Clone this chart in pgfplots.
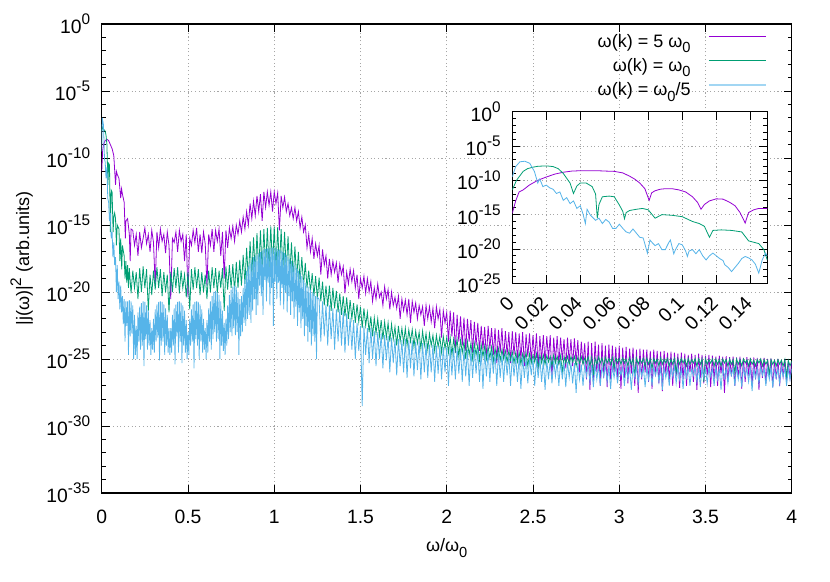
\documentclass[border=0pt]{standalone}
\usepackage{fontspec}
\setmainfont{Liberation Sans}
\usepackage{pgfplots}
\pgfplotsset{compat=1.18}
\definecolor{cP}{HTML}{9400D3}
\definecolor{cG}{HTML}{009E73}
\definecolor{cB}{HTML}{56B4E9}
\newcommand{\sups}[1]{\raisebox{0.45em}{\fontsize{11.5}{12}\selectfont #1}}
\newcommand{\subs}[1]{\raisebox{-0.3em}{\fontsize{11}{12}\selectfont #1}}
\pgfplotsset{
  myax/.style={
    scale only axis,
    /pgf/number format/assume math mode=true,
    tick align=inside,
    major tick length=6pt,
    minor tick length=3pt,
    axis line style={line width=0.9pt},
    every tick/.style={line width=0.6pt, black},
    grid=major,
    grid style={line width=0.5pt, gray!70, dash pattern=on 0.8pt off 2pt},
    every tick label/.append style={font=\fontsize{14.5}{17}\selectfont},
    label style={font=\fontsize{13.5}{16}\selectfont},
    yticklabel style={xshift=-4pt},
  }
}
\begin{document}
\fontsize{13.5}{16}\selectfont
\begin{tikzpicture}[font=\fontsize{13.5}{16}\selectfont]
\path[use as bounding box] (0,0) rectangle (622.5pt,435.75pt);
\begin{axis}[myax, ymode=log,
  at={(76.3pt,66pt)}, anchor=south west,
  width=517.5pt, height=351.75pt,
  xmin=0, xmax=4, ymin=1e-35, ymax=1,
  xtick={0,0.5,1,1.5,2,2.5,3,3.5,4},
  xticklabels={0,0.5,1,1.5,2,2.5,3,3.5,4},
  xticklabel style={yshift=-8pt},
  ytick={1e-35,1e-30,1e-25,1e-20,1e-15,1e-10,1e-5,1},
  yticklabels={10\sups{-35},10\sups{-30},10\sups{-25},10\sups{-20},10\sups{-15},10\sups{-10},10\sups{-5},10\sups{0}},
  minor ytick={1e-34,1e-33,1e-32,1e-31,1e-29,1e-28,1e-27,1e-26,1e-24,1e-23,1e-22,1e-21,1e-19,1e-18,1e-17,1e-16,1e-14,1e-13,1e-12,1e-11,1e-9,1e-8,1e-7,1e-6,1e-4,1e-3,1e-2,1e-1},
  xlabel={ω/ω\subs{0}},
  ylabel={|j(ω)|\sups{2} (arb.units)},
  xlabel style={at={(axis description cs:0.5,-0.117)}, anchor=center},
  ylabel style={at={(axis description cs:-0.116,0.5)}, anchor=center},
  legend cell align=right,
  legend plot pos=right,
  legend style={at={(axis description cs:0.965,0.985)}, anchor=north east, draw=none, fill=none, inner sep=0pt, row sep=2.5pt, column sep=11pt, font=\fontsize{13.5}{16}\selectfont},
  legend image code/.code={\draw[#1] (0pt,0.3em) -- (43pt,0.3em);},
]
% omega(k) = 5 omega_0
\addplot[color=cP, line width=0.6pt, legend image post style={line width=0.9pt}] coordinates {
(0,1e-11)(0.005,3e-10)(0.01,1e-9)(0.02,2e-9)(0.03,2.5e-9)(0.04,2e-9)(0.05,1e-9)(0.06,5e-10)(0.07,1.5e-10)(0.08,1e-12)(0.085,1e-11)(0.09,6e-12)(0.1,3e-12)(0.11,1e-13)(0.115,5e-13)(0.12,2e-13)(0.13,5e-14)(0.137,1e-16)(0.14,2e-15)(0.15,3e-15)(0.16,2e-16)(0.165,2e-18)(0.17,5e-16)
(0.18,4e-16)(0.19,3e-17)(0.20,2e-16)(0.21,5e-18)(0.22,3e-16)(0.23,2e-17)(0.24,1e-16)(0.25,6e-16)(0.26,4e-17)(0.27,2e-16)(0.28,1e-17)(0.29,4e-16)(0.30,5e-17)(0.31,3e-20)(0.32,3e-16)(0.33,2e-17)(0.34,5e-16)(0.35,6e-17)(0.36,2e-16)(0.37,8e-18)(0.38,3e-16)(0.39,3e-17)(0.40,3e-21)(0.41,1e-16)(0.42,5e-17)(0.43,3e-16)(0.44,1e-17)(0.45,4e-16)(0.46,6e-17)(0.47,2e-16)(0.48,2e-18)(0.49,2e-16)(0.50,4e-21)
(0.51,1e-16)(0.52,3e-17)(0.53,4e-16)(0.54,5e-17)(0.55,6e-16)(0.56,1e-17)(0.57,2e-16)(0.58,8e-18)(0.59,3e-16)(0.60,4e-17)(0.61,3e-20)(0.62,2e-16)(0.63,3e-17)(0.64,5e-16)(0.65,1e-17)(0.66,4e-16)(0.67,6e-17)(0.68,5e-16)(0.69,5e-18)(0.70,3e-16)(0.71,1e-19)(0.72,4e-16)(0.73,2e-17)(0.74,6e-16)(0.75,1e-16)
(0.76,8e-16)(0.77,6e-17)(0.78,1e-15)(0.79,2e-16)(0.80,2e-15)(0.81,3e-16)(0.82,4e-15)(0.83,5e-16)(0.84,1e-14)(0.85,1e-15)(0.86,4e-14)(0.87,3e-15)(0.88,6e-14)(0.89,5e-15)(0.90,1.5e-13)(0.91,1e-14)(0.92,2e-13)(0.93,2e-15)(0.94,3e-13)(0.95,2e-14)(0.96,3e-13)(0.97,3e-14)(0.98,3e-13)(0.99,1e-14)(1.00,3e-13)(1.01,4e-14)(1.02,2.5e-13)(1.03,4e-16)(1.04,1.5e-13)(1.05,2e-14)(1.06,1.2e-13)(1.07,1e-14)(1.08,4e-14)(1.09,5e-15)(1.10,2e-14)(1.11,3e-15)(1.12,2e-14)(1.13,2e-15)(1.14,1e-14)
(1.15,6e-16)(1.16,4e-15)(1.17,3e-16)(1.18,1e-15)(1.19,2e-17)(1.20,2e-16)(1.21,1e-17)(1.22,1e-16)(1.23,3e-18)(1.24,4e-17)(1.25,5e-18)(1.26,3e-17)(1.27,2e-19)(1.28,1.5e-17)(1.29,1e-18)(1.30,5e-18)(1.31,1e-19)(1.32,3e-18)(1.33,2e-19)(1.34,2e-18)(1.35,3e-19)(1.36,1.5e-18)(1.37,5e-20)(1.38,1.2e-18)(1.39,2e-19)(1.40,8e-19)(1.41,8e-21)(1.42,3e-19)(1.43,4e-20)(1.44,5e-19)(1.45,6e-20)(1.46,4e-19)(1.47,2e-20)(1.48,2e-19)(1.49,3e-21)(1.50,1e-19)
(1.51,2e-20)(1.52,1.5e-19)(1.53,8e-21)(1.54,1e-19)(1.55,1e-20)(1.56,6e-20)(1.57,2e-21)(1.58,2e-20)(1.59,3e-21)(1.60,4e-20)(1.61,4e-21)(1.62,1e-20)(1.63,1e-21)(1.64,2.5e-20)(1.65,3e-21)(1.66,1.5e-20)(1.67,5e-22)(1.68,1e-20)(1.69,1e-21)(1.70,4e-21)(1.71,6e-22)(1.72,5e-21)(1.73,1e-22)(1.74,3e-21)(1.75,4e-22)(1.76,2.5e-21)(1.77,2e-22)(1.78,3e-21)(1.79,5e-23)(1.80,2e-21)(1.81,3e-22)(1.82,1.5e-21)(1.83,1e-22)(1.84,1e-21)(1.85,2e-22)(1.86,8e-22)(1.87,3e-23)(1.88,1e-21)(1.89,1e-22)(1.90,8e-22)(1.91,6e-23)(1.92,6e-22)(1.93,2e-23)(1.94,8e-22)(1.95,1e-22)(1.96,5e-22)(1.97,4e-24)(1.98,4e-22)(1.99,5e-23)
(2.00,3e-22)(2.01,2e-24)(2.02,4e-22)(2.03,5e-24)(2.04,3e-22)(2.05,3e-25)(2.06,2e-22)(2.07,2e-24)(2.08,1.5e-22)(2.09,1e-24)(2.10,1.2e-22)(2.11,4e-25)(2.12,1e-22)(2.13,2e-24)(2.14,8e-23)(2.15,3e-25)(2.16,6e-23)(2.17,1e-24)(2.18,5e-23)(2.19,4e-25)(2.20,3e-23)(2.21,5e-25)(2.22,2.5e-23)(2.23,1e-25)(2.24,3e-23)(2.25,6e-25)(2.26,2e-23)(2.27,2e-25)(2.28,2e-23)(2.29,5e-26)(2.30,1.5e-23)(2.31,3e-25)(2.32,2e-23)(2.33,1e-25)(2.34,1.2e-23)(2.35,2e-25)(2.36,1e-23)(2.37,5e-26)(2.38,1.2e-23)(2.39,2e-25)(2.40,1e-23)
(2.41,8e-26)(2.42,8e-24)(2.43,1e-25)(2.44,1e-23)(2.45,3e-26)(2.46,7e-24)(2.47,1.5e-25)(2.48,8e-24)(2.49,6e-26)(2.50,6e-24)(2.51,1e-25)(2.52,8e-24)(2.53,2e-26)(2.54,5e-24)(2.55,8e-26)(2.56,6e-24)(2.57,5e-26)(2.58,5e-24)(2.59,1e-25)(2.60,6e-24)(2.61,3e-27)(2.62,4e-24)(2.63,6e-26)(2.64,5e-24)(2.65,4e-26)(2.66,4e-24)(2.67,8e-26)(2.68,3e-24)(2.69,2e-26)(2.70,4e-24)(2.71,5e-26)(2.72,3e-24)(2.73,3e-26)(2.74,3.5e-24)(2.75,6e-26)(2.76,2.5e-24)(2.77,1e-26)(2.78,2e-24)(2.79,4e-26)
(2.80,1.5e-24)(2.81,3e-27)(2.82,2e-24)(2.83,5e-28)(2.84,1.5e-24)(2.85,2e-27)(2.86,2e-24)(2.87,1e-26)(2.88,1.2e-24)(2.89,1e-27)(2.90,1.5e-24)(2.91,4e-27)(2.92,1e-24)(2.93,8e-28)(2.94,1.2e-24)(2.95,3e-27)(2.96,1e-24)(2.97,1e-26)(2.98,8e-25)(2.99,2e-27)(3.00,1e-24)(3.01,6e-28)(3.02,7e-25)(3.03,4e-27)(3.04,8e-25)(3.05,1.5e-27)(3.06,6e-25)(3.07,8e-27)(3.08,7e-25)(3.09,1e-27)(3.10,5e-25)(3.11,3e-28)(3.12,6e-25)(3.13,3e-27)(3.14,5e-25)(3.15,1e-26)(3.16,5e-25)(3.17,2e-27)(3.18,4e-25)(3.19,6e-28)(3.20,5e-25)
(3.21,5e-27)(3.22,4e-25)(3.23,1.5e-27)(3.24,3.5e-25)(3.25,4e-28)(3.26,4e-25)(3.27,8e-27)(3.28,3e-25)(3.29,2e-27)(3.30,3.5e-25)(3.31,1e-27)(3.32,3e-25)(3.33,5e-27)(3.34,2.5e-25)(3.35,7e-28)(3.36,3e-25)(3.37,3e-27)(3.38,2.5e-25)(3.39,1e-27)(3.40,2e-25)(3.41,1e-26)(3.42,2.5e-25)(3.43,2e-27)(3.44,2e-25)(3.45,5e-28)(3.46,2.5e-25)(3.47,4e-27)(3.48,2e-25)(3.49,1.5e-27)(3.50,1.8e-25)(3.51,6e-27)(3.52,2e-25)(3.53,8e-28)(3.54,1.8e-25)(3.55,3e-27)(3.56,1.5e-25)(3.57,1e-27)(3.58,1.8e-25)(3.59,8e-27)(3.60,1.5e-25)
(3.61,3e-28)(3.62,1.6e-25)(3.63,2e-27)(3.64,1.4e-25)(3.65,5e-27)(3.66,1.5e-25)(3.67,1e-27)(3.68,1.3e-25)(3.69,4e-27)(3.70,1.5e-25)(3.71,6e-28)(3.72,1.2e-25)(3.73,2e-27)(3.74,1.4e-25)(3.75,8e-27)(3.76,1.2e-25)(3.77,1e-27)(3.78,1.3e-25)(3.79,3e-27)(3.80,1.2e-25)(3.81,5e-28)(3.82,1.1e-25)(3.83,4e-27)(3.84,1.2e-25)(3.85,1.5e-27)(3.86,1e-25)(3.87,6e-27)(3.88,1.1e-25)(3.89,8e-28)(3.90,9e-26)(3.91,3e-27)(3.92,1e-25)(3.93,1e-27)(3.94,8e-26)(3.95,5e-27)(3.96,9e-26)(3.97,2e-27)(3.98,7e-26)(3.99,4e-27)(4.00,6e-26)
};
\addlegendentry{ω(k) = 5 ω\subs{0}}
% omega(k) = omega_0
\addplot[color=cG, line width=0.6pt, legend image post style={line width=0.9pt}] coordinates {
(0,1e-8)(0.005,2e-8)(0.01,1.5e-8)(0.015,1.2e-8)(0.02,1e-8)(0.025,5e-9)(0.03,1e-9)(0.036,1e-12)(0.04,4e-11)(0.045,3e-11)(0.05,3e-16)(0.055,4e-13)(0.06,3e-13)(0.066,3e-16)(0.07,4e-15)(0.075,8e-15)(0.08,3e-15)(0.085,3e-17)(0.09,1e-15)(0.1,5e-16)(0.105,2e-18)(0.11,1e-16)(0.116,5e-19)(0.12,3e-17)(0.13,5e-18)(0.135,1e-19)(0.14,2e-18)(0.145,5e-20)(0.15,1e-18)(0.155,2e-20)
(0.16,6e-19)(0.17,8e-21)(0.18,4e-19)(0.19,2e-20)(0.20,3e-19)(0.21,3e-21)(0.22,6e-19)(0.23,1e-20)(0.24,8e-19)(0.25,2e-20)(0.26,5e-19)(0.27,4e-22)(0.28,2e-19)(0.29,6e-21)(0.30,4e-19)(0.31,1.5e-20)(0.32,7e-19)(0.33,2e-20)(0.34,5e-19)(0.35,5e-21)(0.36,3e-19)(0.37,1e-20)(0.38,2e-19)(0.39,3e-22)(0.40,3e-19)(0.41,1e-20)(0.42,6e-19)(0.43,2e-20)(0.44,7e-19)(0.45,8e-21)
(0.46,4e-19)(0.47,2e-20)(0.48,2e-19)(0.49,4e-21)(0.50,3e-19)(0.51,5e-22)(0.52,5e-19)(0.53,1.5e-20)(0.54,7e-19)(0.55,2e-20)(0.56,5e-19)(0.57,6e-21)(0.58,3e-19)(0.59,1e-20)(0.60,2e-19)(0.61,3e-21)(0.62,4e-19)(0.63,1e-20)(0.64,7e-19)(0.65,2e-20)(0.66,6e-19)(0.67,8e-21)(0.68,4e-19)(0.69,2e-20)(0.70,6e-19)(0.71,4e-22)(0.72,8e-19)(0.73,1.5e-20)(0.74,1e-18)(0.75,2e-20)
(0.76,1.2e-18)(0.77,1e-20)(0.78,1.8e-18)(0.79,2e-20)(0.80,2.5e-18)(0.81,3e-20)(0.82,6e-18)(0.83,4e-20)(0.84,2e-17)(0.85,8e-20)(0.86,6e-17)(0.87,1.5e-19)(0.88,1.2e-16)(0.89,2e-19)(0.90,2.5e-16)(0.91,3e-19)(0.92,4e-16)(0.93,4e-19)(0.94,5e-16)(0.95,5e-19)(0.96,6e-16)(0.97,6e-19)(0.98,8e-16)(0.99,6e-19)(1.00,8e-16)(1.01,5e-19)(1.02,7e-16)(1.03,5e-19)(1.04,5e-16)(1.05,4e-19)(1.06,3e-16)(1.07,3e-19)(1.08,1.5e-16)(1.09,2e-19)(1.10,5e-17)(1.11,1e-19)(1.12,2.5e-17)(1.13,8e-20)(1.14,1e-17)(1.15,5e-20)(1.16,4e-18)(1.17,3e-20)(1.18,1.5e-18)(1.19,2e-20)(1.20,4e-19)(1.21,1e-20)
(1.22,2.5e-19)(1.23,5e-21)(1.24,1.5e-19)(1.25,3e-21)(1.26,1.2e-19)(1.27,2e-21)(1.28,6e-20)(1.29,1e-21)(1.30,3e-20)(1.31,8e-22)(1.32,3e-20)(1.33,4e-22)(1.34,2e-20)(1.35,6e-22)(1.36,1.2e-20)(1.37,3e-22)(1.38,8e-21)(1.39,2e-22)(1.40,5e-21)(1.41,1.5e-22)(1.42,4e-21)(1.43,1e-22)(1.44,2.5e-21)(1.45,1e-22)(1.46,1.5e-21)(1.47,5e-23)(1.48,1.2e-21)(1.49,6e-23)(1.50,8e-22)(1.51,2e-23)(1.52,6e-22)(1.53,3e-23)(1.54,3e-22)(1.55,1e-23)(1.56,1.5e-22)(1.57,5e-24)(1.58,1.2e-22)(1.59,8e-24)(1.60,1e-22)
(1.61,5e-24)(1.62,8e-23)(1.63,3e-24)(1.64,6e-23)(1.65,4e-24)(1.66,5e-23)(1.67,2e-24)(1.68,4e-23)(1.69,3e-24)(1.70,2.5e-23)(1.71,1e-24)(1.72,3e-23)(1.73,2e-24)(1.74,2e-23)(1.75,1.5e-24)(1.76,2e-23)(1.77,1e-24)(1.78,1.5e-23)(1.79,2e-24)(1.80,1.6e-23)(1.81,8e-25)(1.82,1.2e-23)(1.83,1.5e-24)(1.84,1e-23)(1.85,6e-25)(1.86,1.2e-23)(1.87,1e-24)(1.88,8e-24)(1.89,5e-25)(1.90,8e-24)(1.91,1e-24)(1.92,6e-24)(1.93,4e-25)(1.94,6e-24)(1.95,8e-25)(1.96,5e-24)(1.97,3e-25)(1.98,5e-24)(1.99,6e-25)(2.00,4e-24)
(2.01,3e-25)(2.02,4e-24)(2.03,2e-25)(2.04,3e-24)(2.05,4e-25)(2.06,3e-24)(2.07,1.5e-25)(2.08,2.5e-24)(2.09,3e-25)(2.10,2e-24)(2.11,1e-25)(2.12,2e-24)(2.13,2e-25)(2.14,1.5e-24)(2.15,1e-25)(2.16,1.5e-24)(2.17,2e-25)(2.18,1.2e-24)(2.19,8e-26)(2.20,1.2e-24)(2.21,1.5e-25)(2.22,1e-24)(2.23,1e-25)(2.24,8e-25)(2.25,1.2e-25)(2.26,8e-25)(2.27,6e-26)(2.28,6e-25)(2.29,1e-25)(2.30,6e-25)(2.31,8e-26)(2.32,5e-25)(2.33,1e-25)(2.34,4e-25)(2.35,6e-26)(2.36,4e-25)(2.37,8e-26)(2.38,3.5e-25)(2.39,5e-26)(2.40,3e-25)
(2.41,6e-26)(2.42,3e-25)(2.43,4e-26)(2.44,2.5e-25)(2.45,7e-26)(2.46,3e-25)(2.47,3e-26)(2.48,2.5e-25)(2.49,5e-26)(2.50,2e-25)(2.51,6e-26)(2.52,2.5e-25)(2.53,2e-26)(2.54,2e-25)(2.55,5e-26)(2.56,2e-25)(2.57,4e-26)(2.58,1.8e-25)(2.59,6e-26)(2.60,1.6e-25)(2.61,3e-26)(2.62,2e-25)(2.63,5e-26)(2.64,1.6e-25)(2.65,4e-26)(2.66,1.8e-25)(2.67,1e-26)(2.68,1.5e-25)(2.69,5e-26)(2.70,1.6e-25)(2.71,4e-26)(2.72,1.5e-25)(2.73,6e-26)(2.74,1.6e-25)(2.75,3e-26)(2.76,1.4e-25)(2.77,5e-26)(2.78,1.5e-25)(2.79,4e-26)(2.80,1.2e-25)
(2.81,5e-26)(2.82,1.5e-25)(2.83,3e-26)(2.84,1.3e-25)(2.85,6e-27)(2.86,1.2e-25)(2.87,4e-26)(2.88,1.4e-25)(2.89,5e-26)(2.90,1.2e-25)(2.91,3e-26)(2.92,1.3e-25)(2.93,5e-26)(2.94,1.1e-25)(2.95,4e-26)(2.96,1.3e-25)(2.97,2e-26)(2.98,1.2e-25)(2.99,5e-26)(3.00,1.1e-25)(3.01,4e-26)(3.02,1.2e-25)(3.03,5e-26)(3.04,1e-25)(3.05,3e-26)(3.06,1.2e-25)(3.07,4e-26)(3.08,1.1e-25)(3.09,5e-27)(3.10,1.2e-25)(3.11,4e-26)(3.12,1e-25)(3.13,5e-26)(3.14,1.1e-25)(3.15,3e-26)(3.16,1.2e-25)(3.17,4e-26)(3.18,1e-25)(3.19,2e-26)(3.20,1.1e-25)
(3.21,5e-26)(3.22,1e-25)(3.23,3e-26)(3.24,1.2e-25)(3.25,4e-26)(3.26,1e-25)(3.27,5e-26)(3.28,1.1e-25)(3.29,3e-26)(3.30,1e-25)(3.31,4e-26)(3.32,1.1e-25)(3.33,1e-26)(3.34,1e-25)(3.35,4e-26)(3.36,1.1e-25)(3.37,5e-26)(3.38,1e-25)(3.39,3e-26)(3.40,1.1e-25)(3.41,4e-26)(3.42,9e-26)(3.43,5e-26)(3.44,1.1e-25)(3.45,3e-26)(3.46,1e-25)(3.47,4e-26)(3.48,1e-25)(3.49,2e-27)(3.50,1e-25)(3.51,4e-26)(3.52,9e-26)(3.53,5e-26)(3.54,1e-25)(3.55,3e-26)(3.56,1e-25)(3.57,4e-26)(3.58,9e-26)(3.59,3e-26)(3.60,1e-25)
(3.61,5e-26)(3.62,9e-26)(3.63,3e-26)(3.64,1e-25)(3.65,4e-26)(3.66,9e-26)(3.67,1e-26)(3.68,1e-25)(3.69,4e-26)(3.70,9e-26)(3.71,3e-26)(3.72,1e-25)(3.73,5e-26)(3.74,9e-26)(3.75,3e-26)(3.76,1e-25)(3.77,4e-26)(3.78,8e-26)(3.79,3e-26)(3.80,9e-26)(3.81,5e-26)(3.82,1e-25)(3.83,3e-26)(3.84,9e-26)(3.85,4e-26)(3.86,8e-26)(3.87,6e-27)(3.88,9e-26)(3.89,4e-26)(3.90,8e-26)(3.91,3e-26)(3.92,9e-26)(3.93,4e-26)(3.94,8e-26)(3.95,3e-26)(3.96,9e-26)(3.97,5e-27)(3.98,8e-26)(3.99,3e-26)(4.00,7e-26)
};
\addlegendentry{ω(k) = ω\subs{0}}
% omega(k) = omega_0/5
\addplot[color=cB, line width=0.6pt, legend image post style={line width=1.6pt, opacity=0.55}] coordinates {
(0,3e-10)(0.003,1e-7)(0.006,6e-8)(0.01,3e-8)(0.013,2e-9)(0.016,8e-11)(0.02,5e-11)(0.025,3e-12)(0.03,2e-11)(0.035,1e-13)(0.04,5e-14)(0.045,2e-15)(0.05,8e-15)(0.055,1e-16)(0.06,3e-16)(0.065,4e-18)(0.07,5e-17)(0.075,1e-18)(0.08,4e-18)(0.085,1e-20)(0.09,1e-18)(0.095,3e-21)(0.1,6e-20)(0.105,5e-22)(0.11,3e-20)(0.115,3e-22)(0.12,5e-21)
(0.125,4e-23)(0.13,3e-21)(0.135,2e-24)(0.14,2e-21)(0.145,3e-23)(0.15,2e-21)(0.155,2e-25)(0.16,2.5e-21)(0.165,5e-24)(0.17,2e-21)(0.175,8e-24)(0.18,1e-21)(0.185,1e-25)(0.19,2e-22)(0.195,2e-25)(0.20,3e-23)(0.205,1e-25)(0.21,3e-22)(0.215,2e-24)(0.22,8e-22)(0.225,5e-25)(0.23,1.5e-21)(0.235,1e-24)(0.24,2e-21)(0.245,3e-26)(0.25,1.8e-21)(0.255,3e-24)(0.26,1e-21)(0.265,5e-25)(0.27,4e-22)(0.275,1e-24)(0.28,8e-23)(0.285,2e-25)(0.29,2e-23)(0.295,5e-25)(0.30,1e-22)(0.305,3e-25)(0.31,5e-22)(0.315,2e-24)(0.32,1.2e-21)(0.325,4e-24)(0.33,1.8e-21)(0.335,8e-26)(0.34,2e-21)(0.345,1e-24)(0.35,1.8e-21)(0.355,2e-24)(0.36,1.2e-21)(0.365,2e-25)(0.37,6e-22)(0.375,1e-24)(0.38,2e-22)(0.385,3e-25)(0.39,2e-23)(0.395,2e-25)
(0.40,2e-23)(0.405,3e-25)(0.41,2e-22)(0.415,1e-24)(0.42,6e-22)(0.425,4e-26)(0.43,1.2e-21)(0.435,5e-24)(0.44,1.8e-21)(0.445,3e-25)(0.45,2e-21)(0.455,2e-24)(0.46,1.6e-21)(0.465,5e-26)(0.47,1e-21)(0.475,1e-24)(0.48,4e-22)(0.485,3e-25)(0.49,8e-23)(0.495,1e-25)(0.50,1e-23)(0.505,2e-25)(0.51,1e-22)(0.515,1e-24)(0.52,5e-22)(0.525,2e-24)(0.53,1.2e-21)(0.535,2e-26)(0.54,1.8e-21)(0.545,3e-24)(0.55,2e-21)(0.555,1e-24)(0.56,1.8e-21)(0.565,1e-25)(0.57,1.2e-21)(0.575,2e-24)(0.58,5e-22)(0.585,3e-25)(0.59,1e-22)(0.595,5e-25)(0.60,2e-23)
(0.605,1e-25)(0.61,8e-23)(0.615,3e-25)(0.62,6e-22)(0.625,2e-24)(0.63,2e-21)(0.635,5e-25)(0.64,5e-21)(0.645,3e-24)(0.65,1e-20)(0.655,1e-23)(0.66,1.2e-20)(0.665,2e-24)(0.67,1e-20)(0.675,3e-24)(0.68,6e-21)(0.685,1e-25)(0.69,2e-21)(0.695,1e-24)(0.70,4e-22)(0.705,4e-25)(0.71,5e-23)(0.715,2e-25)(0.72,1e-22)(0.725,1e-24)(0.73,1e-21)(0.735,3e-24)(0.74,6e-21)(0.745,1e-23)(0.75,1.5e-20)(0.755,5e-24)(0.76,2.5e-20)(0.765,2e-23)(0.77,3e-20)(0.775,6e-24)(0.78,2.5e-20)(0.785,1e-23)(0.79,1e-20)(0.795,2e-25)(0.80,3e-21)
(0.805,5e-24)(0.81,5e-21)(0.815,1e-23)(0.82,2e-20)(0.825,5e-23)(0.83,1e-19)(0.835,3e-23)(0.84,4e-19)(0.845,1e-22)(0.85,8e-19)(0.855,2e-22)(0.86,1.5e-18)(0.865,5e-23)(0.87,2.5e-18)(0.875,4e-22)(0.88,4e-18)(0.885,3e-21)(0.89,5e-18)(0.895,2e-22)(0.90,6e-18)(0.905,1e-21)(0.91,8e-18)(0.915,3e-20)(0.92,1e-17)(0.925,5e-21)(0.93,1.2e-17)(0.935,2e-22)(0.94,1.5e-17)(0.945,8e-20)(0.95,1.6e-17)(0.955,2e-21)(0.96,1.8e-17)(0.965,5e-20)(0.97,2e-17)(0.975,1e-21)(0.98,2e-17)(0.985,2e-20)(0.99,2e-17)(0.995,3e-23)(1.00,2e-17)
(1.005,6e-20)(1.01,1.8e-17)(1.015,3e-21)(1.02,1.6e-17)(1.025,5e-20)(1.03,1.4e-17)(1.035,1e-21)(1.04,1.2e-17)(1.045,2e-20)(1.05,1e-17)(1.055,5e-22)(1.06,8e-18)(1.065,1e-20)(1.07,6e-18)(1.075,3e-22)(1.08,4e-18)(1.085,5e-21)(1.09,3e-18)(1.095,2e-22)(1.10,2e-18)(1.105,2e-21)(1.11,1.5e-18)(1.115,1e-22)(1.12,1e-18)(1.125,8e-22)(1.13,6e-19)(1.135,3e-23)(1.14,4e-19)(1.145,3e-22)(1.15,2.5e-19)(1.155,2e-23)(1.16,1.5e-19)(1.165,1e-22)(1.17,8e-20)(1.175,5e-24)(1.18,5e-20)(1.185,3e-23)(1.19,3e-20)(1.195,2e-24)(1.20,2.5e-20)
(1.205,1e-23)(1.21,1.5e-20)(1.215,1e-24)(1.22,1e-20)(1.225,5e-24)(1.23,8e-21)(1.235,2e-24)(1.24,5e-21)(1.245,1e-25)(1.25,4e-21)
(1.26,3e-21)(1.27,2e-24)(1.28,2e-21)(1.29,5e-24)(1.30,1.2e-21)(1.31,1e-24)(1.32,1e-21)(1.33,3e-24)(1.34,6e-22)(1.35,5e-25)(1.36,5e-22)(1.37,2e-24)(1.38,5e-22)(1.39,1e-24)(1.40,4e-22)(1.41,3e-25)(1.42,2.5e-22)(1.43,1e-24)(1.44,1.2e-22)(1.45,5e-25)(1.46,8e-23)(1.47,1e-25)(1.48,5e-23)(1.49,4e-25)(1.50,3e-23)(1.51,3e-29)(1.52,3e-23)(1.53,2e-25)(1.54,2e-23)(1.55,5e-26)(1.56,2e-23)(1.57,1e-25)(1.58,1.2e-23)(1.59,3e-26)(1.60,1e-23)
(1.61,1e-25)(1.62,8e-24)(1.63,2e-26)(1.64,6e-24)(1.65,8e-26)(1.66,5e-24)(1.67,1e-26)(1.68,4e-24)(1.69,5e-26)(1.70,3e-24)(1.71,6e-27)(1.72,3e-24)(1.73,3e-26)(1.74,2.5e-24)(1.75,1e-26)(1.76,3e-24)(1.77,4e-27)(1.78,2.5e-24)(1.79,2e-26)(1.80,2.5e-24)(1.81,5e-27)(1.82,2e-24)(1.83,1.5e-26)(1.84,2e-24)(1.85,3e-27)(1.86,1.5e-24)(1.87,1e-26)(1.88,1.5e-24)(1.89,4e-27)(1.90,1.2e-24)(1.91,1e-26)(1.92,1.2e-24)(1.93,2e-27)(1.94,1e-24)(1.95,8e-27)(1.96,1e-24)(1.97,3e-27)(1.98,8e-25)(1.99,1e-26)(2.00,8e-25)
(2.01,1e-27)(2.02,8e-25)(2.03,6e-27)(2.04,7e-25)(2.05,3e-27)(2.06,7e-25)(2.07,8e-27)(2.08,6e-25)(2.09,2e-27)(2.10,6e-25)(2.11,5e-27)(2.12,5e-25)(2.13,1e-27)(2.14,6e-25)(2.15,4e-27)(2.16,5e-25)(2.17,8e-27)(2.18,5e-25)(2.19,2e-27)(2.20,5e-25)(2.21,6e-28)(2.22,4e-25)(2.23,5e-27)(2.24,4e-25)(2.25,2e-27)(2.26,3.5e-25)(2.27,8e-27)(2.28,3e-25)(2.29,1e-27)(2.30,3e-25)(2.31,4e-27)(2.32,2.5e-25)(2.33,2e-27)(2.34,2.5e-25)(2.35,6e-27)(2.36,2e-25)(2.37,1e-27)(2.38,2e-25)(2.39,5e-27)(2.40,1.6e-25)
(2.41,2e-27)(2.42,1.6e-25)(2.43,6e-28)(2.44,1.5e-25)(2.45,4e-27)(2.46,1.4e-25)(2.47,1.5e-27)(2.48,1.2e-25)(2.49,6e-27)(2.50,1.2e-25)(2.51,1e-27)(2.52,1e-25)(2.53,4e-27)(2.54,1.1e-25)(2.55,2e-27)(2.56,9e-26)(2.57,5e-28)(2.58,9e-26)(2.59,3e-27)(2.60,8e-26)(2.61,1.5e-27)(2.62,8e-26)(2.63,5e-27)(2.64,7e-26)(2.65,1e-27)(2.66,7e-26)(2.67,3e-27)(2.68,6e-26)(2.69,8e-28)(2.70,6e-26)(2.71,4e-27)(2.72,5e-26)(2.73,1.5e-27)(2.74,5e-26)(2.75,3e-28)(2.76,5e-26)(2.77,3e-27)(2.78,4e-26)(2.79,1e-27)(2.80,4e-26)
(2.81,5e-27)(2.82,4e-26)(2.83,2e-27)(2.84,3.5e-26)(2.85,8e-28)(2.86,4e-26)(2.87,3e-27)(2.88,3.5e-26)(2.89,1e-27)(2.90,3e-26)(2.91,5e-27)(2.92,3.5e-26)(2.93,2e-27)(2.94,3e-26)(2.95,6e-28)(2.96,3e-26)(2.97,4e-27)(2.98,3e-26)(2.99,1.5e-27)(3.00,3e-26)(3.01,6e-27)(3.02,2.5e-26)(3.03,1e-27)(3.04,3e-26)(3.05,3e-27)(3.06,2.5e-26)(3.07,5e-28)(3.08,3e-26)(3.09,4e-27)(3.10,2.5e-26)(3.11,1.5e-27)(3.12,3e-26)(3.13,5e-27)(3.14,2.5e-26)(3.15,8e-28)(3.16,2.5e-26)(3.17,3e-27)(3.18,3e-26)(3.19,1e-27)(3.20,2.5e-26)
(3.21,6e-27)(3.22,2.5e-26)(3.23,2e-27)(3.24,3e-26)(3.25,5e-28)(3.26,2.5e-26)(3.27,4e-27)(3.28,2e-26)(3.29,1e-27)(3.30,2.5e-26)(3.31,5e-27)(3.32,3e-26)(3.33,1.5e-27)(3.34,2.5e-26)(3.35,3e-27)(3.36,2e-26)(3.37,6e-28)(3.38,2.5e-26)(3.39,4e-27)(3.40,2.5e-26)(3.41,1e-27)(3.42,2e-26)(3.43,6e-27)(3.44,2.5e-26)(3.45,2e-27)(3.46,3e-26)(3.47,8e-28)(3.48,2.5e-26)(3.49,4e-27)(3.50,2e-26)(3.51,1.5e-27)(3.52,2.5e-26)(3.53,5e-27)(3.54,2e-26)(3.55,1e-27)(3.56,2.5e-26)(3.57,3e-27)(3.58,2e-26)(3.59,5e-28)(3.60,2.5e-26)
(3.61,4e-27)(3.62,2e-26)(3.63,1.5e-27)(3.64,2.5e-26)(3.65,6e-27)(3.66,2e-26)(3.67,1e-27)(3.68,2.5e-26)(3.69,3e-27)(3.70,2e-26)(3.71,8e-28)(3.72,2.5e-26)(3.73,5e-27)(3.74,2e-26)(3.75,2e-27)(3.76,2.5e-26)(3.77,4e-28)(3.78,2e-26)(3.79,4e-27)(3.80,2e-26)(3.81,1.5e-27)(3.82,2.5e-26)(3.83,6e-27)(3.84,2e-26)(3.85,1e-27)(3.86,2e-26)(3.87,3e-27)(3.88,2.5e-26)(3.89,7e-28)(3.90,2e-26)(3.91,4e-27)(3.92,2e-26)(3.93,1.5e-27)(3.94,2.5e-26)(3.95,5e-27)(3.96,2e-26)(3.97,1e-27)(3.98,2e-26)(3.99,3e-27)(4.00,2e-26)
};
\addlegendentry{ω(k) = ω\subs{0}/5}
\end{axis}
\begin{axis}[myax, ymode=log,
  at={(384.2pt,223.3pt)}, anchor=south west,
  width=191.25pt, height=128.7pt,
  xmin=0, xmax=0.15, ymin=1e-25, ymax=1,
  axis background/.style={fill=white},
  xtick={0,0.02,0.04,0.06,0.08,0.1,0.12,0.14},
  xticklabels={0,0.02,0.04,0.06,0.08,0.1,0.12,0.14},
  xticklabel style={yshift=-9pt, xshift=2pt, rotate=45, anchor=east},
  ytick={1e-25,1e-20,1e-15,1e-10,1e-5,1},
  yticklabels={10\sups{-25},10\sups{-20},10\sups{-15},10\sups{-10},10\sups{-5},10\sups{0}},
  minor ytick={1e-24,1e-23,1e-22,1e-21,1e-19,1e-18,1e-17,1e-16,1e-14,1e-13,1e-12,1e-11,1e-9,1e-8,1e-7,1e-6,1e-4,1e-3,1e-2,1e-1},
]
\addplot[color=cP, line width=0.6pt] coordinates {
(0,1.5e-15)(0.002,1e-13)(0.004,2e-12)(0.0064,4e-12)(0.01,2e-11)(0.015,1e-10)(0.02,3e-10)(0.025,8e-10)(0.03,1.5e-9)(0.035,2.2e-9)(0.04,2.5e-9)(0.045,2.5e-9)(0.05,2.5e-9)(0.055,2.2e-9)(0.06,2e-9)(0.065,1.2e-9)(0.069,4e-10)(0.072,1.5e-10)(0.075,4e-11)(0.078,6e-12)(0.0805,1.2e-13)(0.082,1.5e-12)(0.084,3e-12)(0.087,5e-12)(0.09,6e-12)(0.094,6e-12)(0.098,4e-12)(0.102,2e-12)(0.106,4e-13)(0.109,6e-14)(0.111,6e-15)(0.113,3e-14)(0.116,1e-13)(0.12,2e-13)(0.124,1.8e-13)(0.128,6e-14)(0.131,2e-14)(0.134,2e-15)(0.137,6e-17)(0.139,2e-15)(0.142,5e-15)(0.145,8e-15)(0.148,8e-15)(0.15,8e-15)
};
\addplot[color=cG, line width=0.6pt] coordinates {
(0,4e-12)(0.0025,1e-10)(0.0064,2e-9)(0.009,5e-9)(0.012,8e-9)(0.015,1.1e-8)(0.018,1.2e-8)(0.021,1.2e-8)(0.024,1e-8)(0.027,5e-9)(0.03,1e-9)(0.032,2e-10)(0.034,4e-11)(0.036,1.2e-12)(0.038,1.5e-11)(0.04,4e-11)(0.0435,4e-11)(0.047,1.2e-11)(0.049,1e-12)(0.05,3e-16)(0.051,3e-14)(0.053,4e-13)(0.057,5e-13)(0.06,4e-13)(0.063,2.5e-14)(0.065,3e-15)(0.066,2.5e-16)(0.067,2e-15)(0.069,4e-15)(0.073,6e-15)(0.0766,8e-15)(0.08,5e-15)(0.084,3e-16)(0.088,1e-15)(0.094,8e-16)(0.1,5e-16)(0.106,1e-16)(0.11,5e-17)(0.113,2e-17)(0.116,5e-19)(0.118,5e-18)(0.123,6e-18)(0.129,5e-18)(0.135,3e-18)(0.139,1.5e-19)(0.145,6e-20)(0.148,8e-21)(0.15,2.5e-22)
};
\addplot[color=cB, line width=0.6pt] coordinates {
(0,3e-10)(0.002,1e-8)(0.0045,5e-8)(0.0074,6e-8)(0.0103,3e-8)(0.013,2e-9)(0.015,4e-11)(0.016,1.5e-10)(0.017,5e-11)(0.018,1.2e-11)(0.02,2e-11)(0.022,8e-12)(0.024,5e-12)(0.026,1.2e-12)(0.028,2e-12)(0.03,1.2e-13)(0.032,3e-13)(0.034,4e-14)(0.036,1e-13)(0.038,8e-15)(0.04,2e-14)(0.0415,1.5e-15)(0.043,5e-17)(0.044,6e-15)(0.046,8e-16)(0.049,1.5e-16)(0.051,3e-16)(0.053,5e-17)(0.055,2e-16)(0.057,8e-17)(0.059,1e-17)(0.061,1e-17)(0.063,4e-17)(0.065,1e-17)(0.067,3e-18)(0.069,2e-18)(0.071,8e-18)(0.073,2e-18)(0.075,5e-19)(0.077,4e-19)(0.0795,2.5e-21)(0.081,2e-19)(0.082,1e-19)(0.084,3e-20)(0.086,6e-20)(0.088,8e-21)(0.09,8e-21)(0.092,8e-20)(0.093,2e-19)(0.095,2e-21)(0.096,8e-21)(0.098,6e-20)(0.1,4e-20)(0.102,5e-21)(0.103,8e-22)(0.104,5e-21)(0.106,8e-21)(0.108,2e-21)(0.11,8e-21)(0.112,1e-21)(0.114,2.5e-22)(0.116,1e-21)(0.118,2.5e-21)(0.12,1e-21)(0.122,4e-22)(0.124,2e-22)(0.125,5e-23)(0.127,2e-23)(0.129,5e-24)(0.131,2e-23)(0.133,8e-23)(0.135,4e-22)(0.137,8e-22)(0.139,5e-22)(0.141,2.5e-22)(0.143,6e-23)(0.145,3e-24)(0.147,2.5e-22)(0.149,2.5e-21)(0.15,1e-21)
};
\end{axis}
\end{tikzpicture}
\end{document}
